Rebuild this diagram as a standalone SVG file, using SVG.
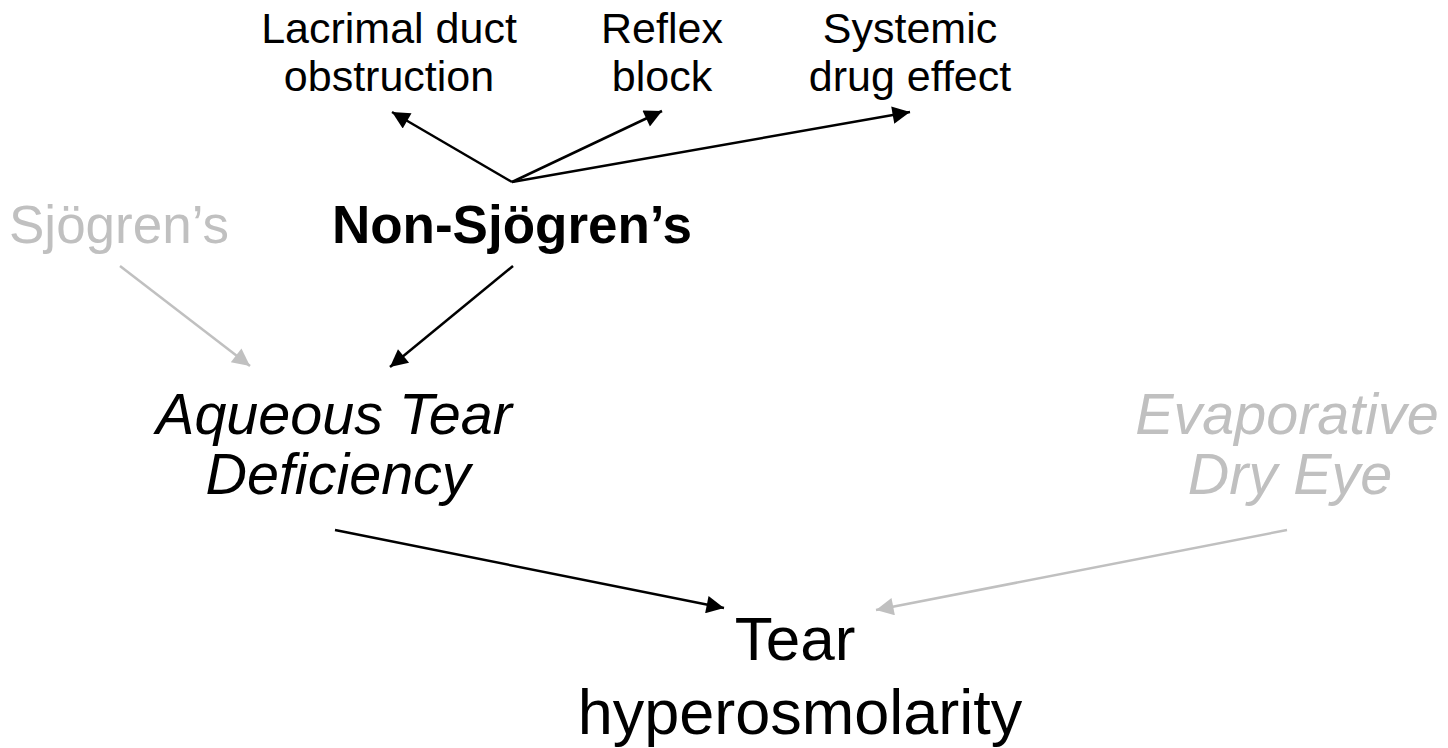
<svg xmlns="http://www.w3.org/2000/svg" width="1448" height="748" viewBox="0 0 1448 748">
  <style>
    text { font-family: "Liberation Sans", Arial, sans-serif; text-anchor: middle; fill: #000; }
    .small { font-size: 43px; }
    .big { font-size: 53px; }
    .ital { font-size: 57.5px; font-style: italic; }
    .result { font-size: 62px; }
    .dim { fill: #c0c0c0; }
    .edge { stroke: #000; stroke-width: 2.5; fill: none; }
    .edge.dimline { stroke: #c0c0c0; }
  </style>
  <defs>
    <marker id="head" viewBox="0 0 10 10" refX="10" refY="5" markerWidth="8" markerHeight="7" markerUnits="strokeWidth" orient="auto">
      <path d="M0,0 L10,5 L0,10 z" fill="#000"/>
    </marker>
    <marker id="head-dim" viewBox="0 0 10 10" refX="10" refY="5" markerWidth="8" markerHeight="7" markerUnits="strokeWidth" orient="auto">
      <path d="M0,0 L10,5 L0,10 z" fill="#c0c0c0"/>
    </marker>
  </defs>

  <g id="lacrimal">
    <text class="small" x="389" y="43">Lacrimal duct</text>
    <text class="small" x="389" y="91">obstruction</text>
  </g>
  <g id="reflex">
    <text class="small" x="662" y="43">Reflex</text>
    <text class="small" x="662" y="91">block</text>
  </g>
  <g id="systemic">
    <text class="small" x="910" y="43">Systemic</text>
    <text class="small" x="910" y="91">drug effect</text>
  </g>
  <g id="sjogren">
    <text class="big dim" x="119" y="243">Sjögren’s</text>
  </g>
  <g id="non-sjogren">
    <text class="big" x="512" y="243" font-weight="bold">Non-Sjögren’s</text>
  </g>
  <g id="aqueous">
    <text class="ital" x="334" y="434">Aqueous Tear</text>
    <text class="ital" x="338" y="494">Deficiency</text>
  </g>
  <g id="evaporative">
    <text class="ital dim" x="1287" y="434">Evaporative</text>
    <text class="ital dim" x="1290" y="494">Dry Eye</text>
  </g>
  <g id="hyperosmolarity">
    <text class="result" x="795" y="660">Tear</text>
    <text class="result" x="800" y="734" style="font-size:63px">hyperosmolarity</text>
  </g>

  <g id="connectors">
    <line class="edge" x1="512" y1="182" x2="392" y2="112" marker-end="url(#head)"/>
    <line class="edge" x1="512" y1="182" x2="662" y2="111" marker-end="url(#head)"/>
    <line class="edge" x1="512" y1="182" x2="910" y2="112" marker-end="url(#head)"/>
    <line class="edge" x1="513" y1="266" x2="390" y2="367" marker-end="url(#head)"/>
    <line class="edge dimline" x1="120" y1="266" x2="250" y2="366" marker-end="url(#head-dim)"/>
    <line class="edge" x1="335" y1="530" x2="724" y2="608" marker-end="url(#head)"/>
    <line class="edge dimline" x1="1287" y1="530" x2="876" y2="610" marker-end="url(#head-dim)"/>
  </g>
</svg>
